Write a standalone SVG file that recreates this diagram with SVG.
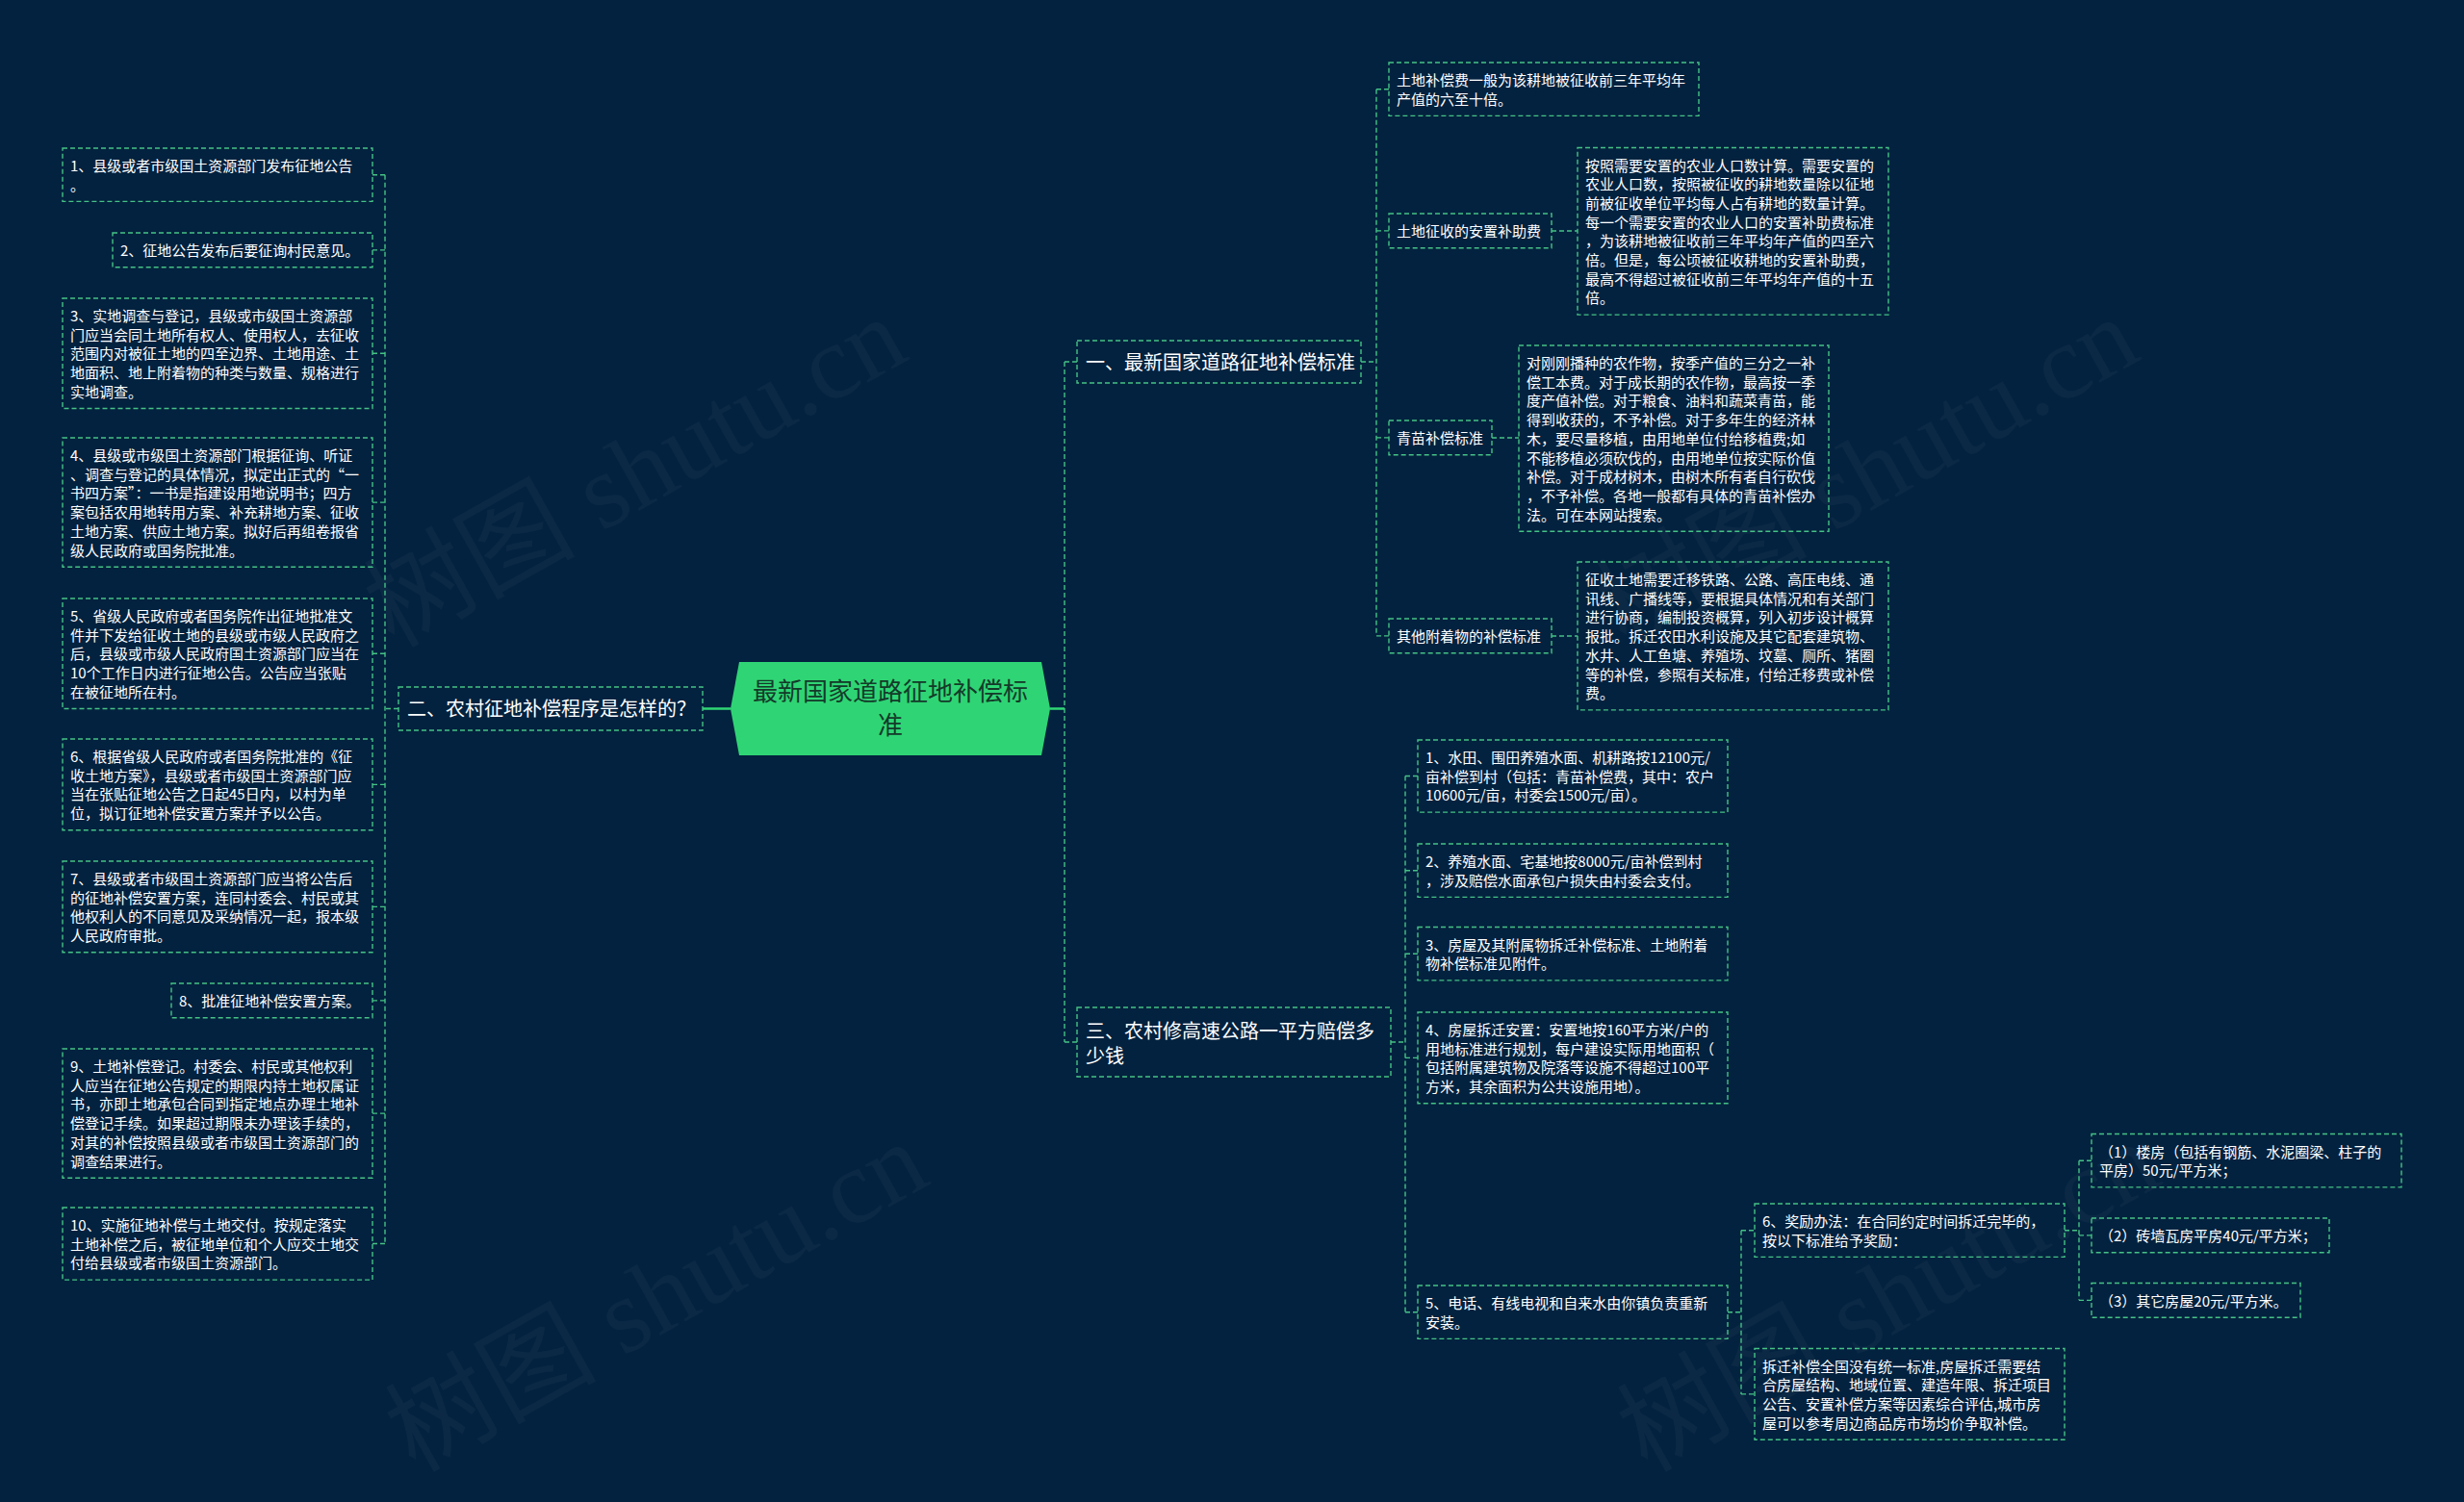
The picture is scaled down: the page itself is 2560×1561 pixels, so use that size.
<svg xmlns="http://www.w3.org/2000/svg" width="2560" height="1561" viewBox="0 0 2560 1561">
<style>
.bx{fill:none;stroke:#45c285;stroke-width:1.4;stroke-dasharray:5 3}
.ln{fill:none;stroke:#45c285;stroke-width:1.4;stroke-dasharray:5 3}
.sl{fill:none;stroke:#2fd574;stroke-width:2.5}
.t{font-family:"Noto Sans CJK SC","Noto Sans",sans-serif;font-size:15px;fill:#ffffff}
.tb{font-family:"Noto Sans CJK SC","Noto Sans",sans-serif;font-size:20px;fill:#ffffff}
.tc{font-family:"Noto Sans CJK SC","Noto Sans",sans-serif;font-size:26px;fill:#143a2a;text-anchor:middle}
.wm{font-family:"Liberation Serif","Noto Sans CJK SC",serif;font-size:110px;fill:#ffffff;fill-opacity:0.035;text-anchor:middle}
</style>
<rect x="0" y="0" width="2560" height="1561" fill="#03223f"/>
<g id="watermarks">
<text class="wm" transform="translate(678,523) rotate(-29.3)">树图 shutu.cn</text>
<text class="wm" transform="translate(1958,523) rotate(-29.3)">树图 shutu.cn</text>
<text class="wm" transform="translate(700,1380) rotate(-29.3)">树图 shutu.cn</text>
<text class="wm" transform="translate(1980,1380) rotate(-29.3)">树图 shutu.cn</text>
</g>
<g id="connectors">
<path class="sl" d="M730,736.5H759M1091,736.5H1106"/>
<path class="ln" d="M1106,376V1083M1106,376H1119M1106,1083H1119"/>
<path class="ln" d="M414,736.5H400M400,181.7V1292.55M387,181.7H400M387,259.85H400M387,367.25H400M387,522.1H400M387,679.25H400M387,815.4H400M387,942.4H400M387,1039.85H400M387,1157.1H400M387,1292.55H400"/>
<path class="ln" d="M1414,376H1430M1430,92.7V660.85M1430,92.7H1443M1430,239.85H1443M1430,454.85H1443M1430,660.85H1443"/>
<path class="ln" d="M1612,240H1639M1550,455H1578M1612,661H1639"/>
<path class="ln" d="M1445,1083H1460M1460,806.55V1363.7M1460,806.55H1473M1460,904.7H1473M1460,991.2H1473M1460,1099.4H1473M1460,1363.7H1473"/>
<path class="ln" d="M1795,1363.7H1809M1809,1278.7V1448.9M1809,1278.7H1823M1809,1448.9H1823"/>
<path class="ln" d="M2145,1278.7H2160M2160,1206.2V1351.35M2160,1206.2H2173M2160,1283.85H2173M2160,1351.35H2173"/>
</g>
<g id="root">
<polygon points="759,736.5 768,688 1082,688 1091,736.5 1082,785 768,785" fill="#2fd574"/>
<text class="tc"><tspan x="925" y="728">最新国家道路征地补偿标</tspan><tspan x="925" y="763">准</tspan></text>
</g>
<g id="b1"><rect class="bx" x="1119" y="354" width="295" height="44"/><text class="tb" x="1128" y="383.5">一、最新国家道路征地补偿标准</text></g>
<g id="b2"><rect class="bx" x="414" y="714" width="316" height="45"/><text class="tb" x="423" y="744">二、农村征地补偿程序是怎样的？</text></g>
<g id="b3"><rect class="bx" x="1119" y="1047" width="326" height="72"/><text class="tb"><tspan x="1128" y="1078.5">三、农村修高速公路一平方赔偿多</tspan><tspan x="1128" y="1104.5">少钱</tspan></text></g>
<g id="l1"><rect class="bx" x="65" y="154" width="322" height="55.4"/><text class="t"><tspan x="73" y="178">1、县级或者市级国土资源部门发布征地公告</tspan><tspan x="73" y="197.7">。</tspan></text></g>
<g id="l2"><rect class="bx" x="117" y="242" width="270" height="35.7"/><text class="t" x="125" y="266">2、征地公告发布后要征询村民意见。</text></g>
<g id="l3"><rect class="bx" x="65" y="310" width="322" height="114.5"/><text class="t"><tspan x="73" y="334">3、实地调查与登记，县级或市级国土资源部</tspan><tspan x="73" y="353.7">门应当会同土地所有权人、使用权人，去征收</tspan><tspan x="73" y="373.4">范围内对被征土地的四至边界、土地用途、土</tspan><tspan x="73" y="393.1">地面积、地上附着物的种类与数量、规格进行</tspan><tspan x="73" y="412.8">实地调查。</tspan></text></g>
<g id="l4"><rect class="bx" x="65" y="455" width="322" height="134.2"/><text class="t"><tspan x="73" y="479">4、县级或市级国土资源部门根据征询、听证</tspan><tspan x="73" y="498.7">、调查与登记的具体情况，拟定出正式的“一</tspan><tspan x="73" y="518.4">书四方案”：一书是指建设用地说明书；四方</tspan><tspan x="73" y="538.1">案包括农用地转用方案、补充耕地方案、征收</tspan><tspan x="73" y="557.8">土地方案、供应土地方案。拟好后再组卷报省</tspan><tspan x="73" y="577.5">级人民政府或国务院批准。</tspan></text></g>
<g id="l5"><rect class="bx" x="65" y="622" width="322" height="114.5"/><text class="t"><tspan x="73" y="646">5、省级人民政府或者国务院作出征地批准文</tspan><tspan x="73" y="665.7">件并下发给征收土地的县级或市级人民政府之</tspan><tspan x="73" y="685.4">后，县级或市级人民政府国土资源部门应当在</tspan><tspan x="73" y="705.1">10个工作日内进行征地公告。公告应当张贴</tspan><tspan x="73" y="724.8">在被征地所在村。</tspan></text></g>
<g id="l6"><rect class="bx" x="65" y="768" width="322" height="94.8"/><text class="t"><tspan x="73" y="792">6、根据省级人民政府或者国务院批准的《征</tspan><tspan x="73" y="811.7">收土地方案》，县级或者市级国土资源部门应</tspan><tspan x="73" y="831.4">当在张贴征地公告之日起45日内，以村为单</tspan><tspan x="73" y="851.1">位，拟订征地补偿安置方案并予以公告。</tspan></text></g>
<g id="l7"><rect class="bx" x="65" y="895" width="322" height="94.8"/><text class="t"><tspan x="73" y="919">7、县级或者市级国土资源部门应当将公告后</tspan><tspan x="73" y="938.7">的征地补偿安置方案，连同村委会、村民或其</tspan><tspan x="73" y="958.4">他权利人的不同意见及采纳情况一起，报本级</tspan><tspan x="73" y="978.1">人民政府审批。</tspan></text></g>
<g id="l8"><rect class="bx" x="178" y="1022" width="209" height="35.7"/><text class="t" x="186" y="1046">8、批准征地补偿安置方案。</text></g>
<g id="l9"><rect class="bx" x="65" y="1090" width="322" height="134.2"/><text class="t"><tspan x="73" y="1114">9、土地补偿登记。村委会、村民或其他权利</tspan><tspan x="73" y="1133.7">人应当在征地公告规定的期限内持土地权属证</tspan><tspan x="73" y="1153.4">书，亦即土地承包合同到指定地点办理土地补</tspan><tspan x="73" y="1173.1">偿登记手续。如果超过期限未办理该手续的，</tspan><tspan x="73" y="1192.8">对其的补偿按照县级或者市级国土资源部门的</tspan><tspan x="73" y="1212.5">调查结果进行。</tspan></text></g>
<g id="l10"><rect class="bx" x="65" y="1255" width="322" height="75.1"/><text class="t"><tspan x="73" y="1279">10、实施征地补偿与土地交付。按规定落实</tspan><tspan x="73" y="1298.7">土地补偿之后，被征地单位和个人应交土地交</tspan><tspan x="73" y="1318.4">付给县级或者市级国土资源部门。</tspan></text></g>
<g id="r-a"><rect class="bx" x="1443" y="65" width="322" height="55.4"/><text class="t"><tspan x="1451" y="89">土地补偿费一般为该耕地被征收前三年平均年</tspan><tspan x="1451" y="108.7">产值的六至十倍。</tspan></text></g>
<g id="r-b"><rect class="bx" x="1443" y="222" width="169" height="35.7"/><text class="t" x="1451" y="246">土地征收的安置补助费</text></g>
<g id="r-c"><rect class="bx" x="1639" y="153.5" width="323" height="173.6"/><text class="t"><tspan x="1647" y="177.5">按照需要安置的农业人口数计算。需要安置的</tspan><tspan x="1647" y="197.2">农业人口数，按照被征收的耕地数量除以征地</tspan><tspan x="1647" y="216.9">前被征收单位平均每人占有耕地的数量计算。</tspan><tspan x="1647" y="236.6">每一个需要安置的农业人口的安置补助费标准</tspan><tspan x="1647" y="256.3">，为该耕地被征收前三年平均年产值的四至六</tspan><tspan x="1647" y="276">倍。但是，每公顷被征收耕地的安置补助费，</tspan><tspan x="1647" y="295.7">最高不得超过被征收前三年平均年产值的十五</tspan><tspan x="1647" y="315.4">倍。</tspan></text></g>
<g id="r-d"><rect class="bx" x="1443" y="437" width="107" height="35.7"/><text class="t" x="1451" y="461">青苗补偿标准</text></g>
<g id="r-e"><rect class="bx" x="1578" y="359" width="322" height="193.3"/><text class="t"><tspan x="1586" y="383">对刚刚播种的农作物，按季产值的三分之一补</tspan><tspan x="1586" y="402.7">偿工本费。对于成长期的农作物，最高按一季</tspan><tspan x="1586" y="422.4">度产值补偿。对于粮食、油料和蔬菜青苗，能</tspan><tspan x="1586" y="442.1">得到收获的，不予补偿。对于多年生的经济林</tspan><tspan x="1586" y="461.8">木，要尽量移植，由用地单位付给移植费;如</tspan><tspan x="1586" y="481.5">不能移植必须砍伐的，由用地单位按实际价值</tspan><tspan x="1586" y="501.2">补偿。对于成材树木，由树木所有者自行砍伐</tspan><tspan x="1586" y="520.9">，不予补偿。各地一般都有具体的青苗补偿办</tspan><tspan x="1586" y="540.6">法。可在本网站搜索。</tspan></text></g>
<g id="r-f"><rect class="bx" x="1443" y="643" width="169" height="35.7"/><text class="t" x="1451" y="667">其他附着物的补偿标准</text></g>
<g id="r-g"><rect class="bx" x="1639" y="584" width="323" height="153.9"/><text class="t"><tspan x="1647" y="608">征收土地需要迁移铁路、公路、高压电线、通</tspan><tspan x="1647" y="627.7">讯线、广播线等，要根据具体情况和有关部门</tspan><tspan x="1647" y="647.4">进行协商，编制投资概算，列入初步设计概算</tspan><tspan x="1647" y="667.1">报批。拆迁农田水利设施及其它配套建筑物、</tspan><tspan x="1647" y="686.8">水井、人工鱼塘、养殖场、坟墓、厕所、猪圈</tspan><tspan x="1647" y="706.5">等的补偿，参照有关标准，付给迁移费或补偿</tspan><tspan x="1647" y="726.2">费。</tspan></text></g>
<g id="t1"><rect class="bx" x="1473" y="769" width="322" height="75.1"/><text class="t"><tspan x="1481" y="793">1、水田、围田养殖水面、机耕路按12100元/</tspan><tspan x="1481" y="812.7">亩补偿到村（包括：青苗补偿费，其中：农户</tspan><tspan x="1481" y="832.4">10600元/亩，村委会1500元/亩）。</tspan></text></g>
<g id="t2"><rect class="bx" x="1473" y="877" width="322" height="55.4"/><text class="t"><tspan x="1481" y="901">2、养殖水面、宅基地按8000元/亩补偿到村</tspan><tspan x="1481" y="920.7">，涉及赔偿水面承包户损失由村委会支付。</tspan></text></g>
<g id="t3"><rect class="bx" x="1473" y="963.5" width="322" height="55.4"/><text class="t"><tspan x="1481" y="987.5">3、房屋及其附属物拆迁补偿标准、土地附着</tspan><tspan x="1481" y="1007.2">物补偿标准见附件。</tspan></text></g>
<g id="t4"><rect class="bx" x="1473" y="1052" width="322" height="94.8"/><text class="t"><tspan x="1481" y="1076">4、房屋拆迁安置：安置地按160平方米/户的</tspan><tspan x="1481" y="1095.7">用地标准进行规划，每户建设实际用地面积（</tspan><tspan x="1481" y="1115.4">包括附属建筑物及院落等设施不得超过100平</tspan><tspan x="1481" y="1135.1">方米，其余面积为公共设施用地）。</tspan></text></g>
<g id="t5"><rect class="bx" x="1473" y="1336" width="322" height="55.4"/><text class="t"><tspan x="1481" y="1360">5、电话、有线电视和自来水由你镇负责重新</tspan><tspan x="1481" y="1379.7">安装。</tspan></text></g>
<g id="t6"><rect class="bx" x="1823" y="1251" width="322" height="55.4"/><text class="t"><tspan x="1831" y="1275">6、奖励办法：在合同约定时间拆迁完毕的，</tspan><tspan x="1831" y="1294.7">按以下标准给予奖励：</tspan></text></g>
<g id="t7"><rect class="bx" x="1823" y="1401.5" width="322" height="94.8"/><text class="t"><tspan x="1831" y="1425.5">拆迁补偿全国没有统一标准,房屋拆迁需要结</tspan><tspan x="1831" y="1445.2">合房屋结构、地域位置、建造年限、拆迁项目</tspan><tspan x="1831" y="1464.9">公告、安置补偿方案等因素综合评估,城市房</tspan><tspan x="1831" y="1484.6">屋可以参考周边商品房市场均价争取补偿。</tspan></text></g>
<g id="p1"><rect class="bx" x="2173" y="1178.5" width="322" height="55.4"/><text class="t"><tspan x="2181" y="1202.5">（1）楼房（包括有钢筋、水泥圈梁、柱子的</tspan><tspan x="2181" y="1222.2">平房）50元/平方米；</tspan></text></g>
<g id="p2"><rect class="bx" x="2173" y="1266" width="247" height="35.7"/><text class="t" x="2181" y="1290">（2）砖墙瓦房平房40元/平方米；</text></g>
<g id="p3"><rect class="bx" x="2173" y="1333.5" width="217" height="35.7"/><text class="t" x="2181" y="1357.5">（3）其它房屋20元/平方米。</text></g>
</svg>
